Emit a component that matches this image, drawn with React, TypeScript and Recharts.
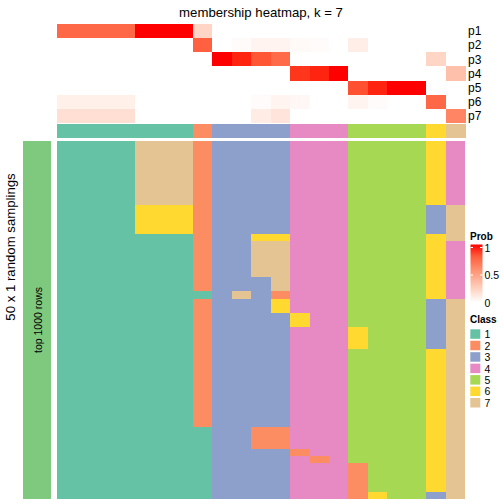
import React from "react";
import { BarChart, Bar, Cell, XAxis, YAxis } from "recharts";

const FONT = '"Liberation Sans", Arial, Helvetica, sans-serif';

// 21 samples (columns), ordered as in the picture
const sampleIds = [
  "s1", "s2", "s3", "s4", "s5", "s6", "s7", "s8", "s9", "s10", "s11",
  "s12", "s13", "s14", "s15", "s16", "s17", "s18", "s19", "s20", "s21",
];

// membership probabilities, one array per cluster
const probRows = ["p1", "p2", "p3", "p4", "p5", "p6", "p7"];
const p1 = [0.75, 0.75, 0.75, 0.75, 1, 1, 1, 0.22, 0, 0, 0, 0, 0, 0, 0, 0, 0, 0, 0, 0, 0];
const p2 = [0, 0, 0, 0, 0, 0, 0, 0.78, 0, 0.02, 0.06, 0.06, 0.03, 0.02, 0, 0.09, 0, 0, 0, 0, 0];
const p3 = [0, 0, 0, 0, 0, 0, 0, 0, 1, 0.96, 0.82, 0.74, 0, 0, 0, 0, 0, 0, 0, 0.22, 0];
const p4 = [0, 0, 0, 0, 0, 0, 0, 0, 0, 0, 0, 0, 0.92, 0.96, 1, 0, 0, 0, 0, 0, 0.33];
const p5 = [0, 0, 0, 0, 0, 0, 0, 0, 0, 0, 0, 0, 0, 0, 0, 0.84, 0.96, 1, 1, 0, 0];
const p6 = [0.08, 0.08, 0.08, 0.08, 0, 0, 0, 0, 0, 0, 0.02, 0.06, 0.04, 0, 0, 0.06, 0.02, 0, 0, 0.75, 0];
const p7 = [0.17, 0.17, 0.17, 0.17, 0, 0, 0, 0, 0, 0, 0.1, 0.14, 0, 0, 0, 0, 0, 0, 0, 0, 0.62];
const probs = [p1, p2, p3, p4, p5, p6, p7];

// consensus class of each sample
const sampleClass = [1, 1, 1, 1, 1, 1, 1, 2, 3, 3, 3, 3, 4, 4, 4, 5, 5, 5, 5, 6, 7];

// class of each sample in each of the 50 random samplings (one string per sampling)
const samplings = [
  "111177723333444555564", "111177723333444555564", "111177723333444555564",
  "111177723333444555564", "111177723333444555564", "111177723333444555564",
  "111177723333444555564", "111177723333444555564", "111177723333444555564",
  "111166623333444555537", "111166623333444555537", "111166623333444555537",
  "111166623333444555537", "111111123366444555567", "111111123377444555564",
  "111111123377444555564", "111111123377444555564", "111111123377444555564",
  "111111123377444555564", "111111123337444555564", "111111123337444555564",
  "111111113732444555564", "111111123336444555537", "111111123336444555537",
  "111111123333644555537", "111111123333644555537", "111111123333444655537",
  "111111123333444655537", "111111123333444655537", "111111123333444555567",
  "111111123333444555567", "111111123333444555567", "111111123333444555567",
  "111111123333444555567", "111111123333444555567", "111111123333444555567",
  "111111123333444555567", "111111123333444555567", "111111123333444555567",
  "111111123333444555567", "111111113322444555567", "111111113322444555567",
  "111111113322444555567", "111111113333244555567", "111111113333424555567",
  "111111113333444255567", "111111113333444255567", "111111113333444255567",
  "111111113333444255567", "111111113333444265537",
];

const classLabels = ["1", "2", "3", "4", "5", "6", "7"];
const classColors: Record<string, string> = {
  "1": "#66C2A5",
  "2": "#FC8D62",
  "3": "#8DA0CB",
  "4": "#E78AC3",
  "5": "#A6D854",
  "6": "#FFD92F",
  "7": "#E5C494",
};
const probTicks = [1, 0.5, 0];

// white -> red in LAB space
function toLinear(c: number) {
  c /= 255;
  return c <= 0.04045 ? c / 12.92 : Math.pow((c + 0.055) / 1.055, 2.4);
}
function fromLinear(c: number) {
  const v = c <= 0.0031308 ? 12.92 * c : 1.055 * Math.pow(c, 1 / 2.4) - 0.055;
  return Math.round(Math.min(1, Math.max(0, v)) * 255);
}
function rgbToLab(r: number, g: number, b: number) {
  const R = toLinear(r), G = toLinear(g), B = toLinear(b);
  const X = (0.4124 * R + 0.3576 * G + 0.1805 * B) / 0.95047;
  const Y = 0.2126 * R + 0.7152 * G + 0.0722 * B;
  const Z = (0.0193 * R + 0.1192 * G + 0.9505 * B) / 1.08883;
  const f = (t: number) => (t > 0.008856 ? Math.cbrt(t) : 7.787 * t + 16 / 116);
  return [116 * f(Y) - 16, 500 * (f(X) - f(Y)), 200 * (f(Y) - f(Z))];
}
function labToRgb(L: number, a: number, b: number) {
  const fy = (L + 16) / 116, fx = fy + a / 500, fz = fy - b / 200;
  const inv = (t: number) => (t ** 3 > 0.008856 ? t ** 3 : (t - 16 / 116) / 7.787);
  const X = inv(fx) * 0.95047, Y = inv(fy), Z = inv(fz) * 1.08883;
  const R = 3.2406 * X - 1.5372 * Y - 0.4986 * Z;
  const G = -0.9689 * X + 1.8758 * Y + 0.0415 * Z;
  const B = 0.0557 * X - 0.204 * Y + 1.057 * Z;
  return `rgb(${fromLinear(R)},${fromLinear(G)},${fromLinear(B)})`;
}
const WHITE = rgbToLab(255, 255, 255);
const RED = rgbToLab(255, 0, 0);
function probColor(t: number) {
  return labToRgb(
    WHITE[0] + (RED[0] - WHITE[0]) * t,
    WHITE[1] + (RED[1] - WHITE[1]) * t,
    WHITE[2] + (RED[2] - WHITE[2]) * t
  );
}

const probData = sampleIds.map((id) => {
  const o: any = { id };
  probRows.forEach((p) => (o[p] = 1));
  return o;
});
const classData = sampleIds.map((id) => ({ id, cls: 1 }));
const mainData = sampleIds.map((id) => {
  const o: any = { id };
  samplings.forEach((_, r) => (o[`r${r}`] = 1));
  return o;
});

const abs = (left: number, top: number): React.CSSProperties => ({ position: "absolute", left, top });

// recharts truncates bar widths to whole pixels, so each tile is widened by 1px
// (the next column paints over the overlap) and drawn without anti-aliasing
const Tile = (p: any) => {
  const y = Math.min(p.y, p.y + p.height);
  return <rect x={p.x} y={y} width={p.width + 1} height={Math.abs(p.height)} fill={p.fill} shapeRendering="crispEdges" />;
};

export default function App() {
  return (
    <div style={{ position: "absolute", left: 0, top: 0, width: 504, height: 504, background: "#fff", fontFamily: FONT }}>
      {/* probability annotation */}
      <div style={abs(57, 24)}>
        <BarChart width={447} height={99} data={probData} margin={{ top: 0, right: 0, left: 0, bottom: 0 }} barCategoryGap={0} barGap={0}>
          <XAxis dataKey="id" hide />
          <YAxis
            type="number"
            domain={[0, 7]}
            reversed
            orientation="right"
            width={39}
            ticks={[0.5, 1.5, 2.5, 3.5, 4.5, 5.5, 6.5]}
            tickFormatter={(v: number) => probRows[Math.floor(v)]}
            axisLine={false}
            tickLine={false}
            tickSize={0}
            tickMargin={3}
            tick={{ fill: "#000", fontSize: 12 }}
            interval={0}
          />
          {probRows.map((p, k) => (
            <Bar key={p} dataKey={p} stackId="p" isAnimationActive={false} shape={Tile}>
              {probs[k].map((v, c) => (
                <Cell key={c} fill={probColor(v)} />
              ))}
            </Bar>
          ))}
        </BarChart>
      </div>

      {/* class annotation */}
      <div style={abs(57, 124)}>
        <BarChart width={447} height={14} data={classData} margin={{ top: 0, right: 0, left: 0, bottom: 0 }} barCategoryGap={0} barGap={0}>
          <XAxis dataKey="id" hide />
          <YAxis
            type="number"
            domain={[0, 1]}
            orientation="right"
            width={39}
            ticks={[0.5]}
            tickFormatter={() => "Class"}
            axisLine={false}
            tickLine={false}
            tickSize={0}
            tickMargin={3}
            tick={{ fill: "#000", fontSize: 12 }}
          />
          <Bar dataKey="cls" isAnimationActive={false} shape={Tile}>
            {sampleClass.map((k, c) => (
              <Cell key={c} fill={classColors[String(k)]} />
            ))}
          </Bar>
        </BarChart>
      </div>

      {/* left annotation bar */}
      <div style={abs(23, 141)}>
        <BarChart width={28} height={358} data={[{ id: "top", v: 1 }]} margin={{ top: 0, right: 0, left: 0, bottom: 0 }} barCategoryGap={0}>
          <XAxis dataKey="id" hide />
          <YAxis hide domain={[0, 1]} />
          <Bar dataKey="v" fill="#7FC97F" isAnimationActive={false} />
        </BarChart>
      </div>

      {/* main heatmap: samplings x samples */}
      <div style={abs(57, 141)}>
        <BarChart width={408} height={358} data={mainData} margin={{ top: 0, right: 0, left: 0, bottom: 0 }} barCategoryGap={0} barGap={0}>
          <XAxis dataKey="id" hide />
          <YAxis hide type="number" domain={[0, samplings.length]} reversed />
          {samplings.map((row, r) => (
            <Bar key={r} dataKey={`r${r}`} stackId="m" isAnimationActive={false} shape={Tile}>
              {row.split("").map((ch, c) => (
                <Cell key={c} fill={classColors[ch]} />
              ))}
            </Bar>
          ))}
        </BarChart>
      </div>

      {/* titles and legends */}
      <svg width={504} height={504} style={{ position: "absolute", left: 0, top: 0, pointerEvents: "none" }}>
        <defs>
          <linearGradient id="probGrad" x1="0" y1="0" x2="0" y2="1">
            {[1, 0.8, 0.6, 0.4, 0.2, 0].map((t, i) => (
              <stop key={i} offset={`${(1 - t) * 100}%`} stopColor={probColor(t)} />
            ))}
          </linearGradient>
        </defs>
        <text x={261} y={12} fontSize={13.2} textAnchor="middle" dominantBaseline="central" fill="#000">
          membership heatmap, k = 7
        </text>
        <text transform="translate(10,247) rotate(-90)" fontSize={13.2} textAnchor="middle" dominantBaseline="central" fill="#000">
          50 x 1 random samplings
        </text>
        <text transform="translate(38,320) rotate(-90)" fontSize={10.5} textAnchor="middle" dominantBaseline="central" fill="#000">
          top 1000 rows
        </text>

        <text x={470} y={236} fontSize={10} fontWeight="bold" dominantBaseline="central" fill="#000">Prob</text>
        <rect x={470.5} y={244.5} width={12} height={58} fill="url(#probGrad)" />
        {probTicks.map((v) => {
          const y = 247.5 + (1 - v) * 55;
          return (
            <g key={v}>
              {v > 0 && (
                <>
                  <line x1={470.5} x2={473} y1={y} y2={y} stroke="#fff" strokeWidth={1} />
                  <line x1={480} x2={482.5} y1={y} y2={y} stroke="#fff" strokeWidth={1} />
                </>
              )}
              <text x={484.5} y={y} fontSize={10.5} dominantBaseline="central" fill="#000">{v}</text>
            </g>
          );
        })}

        <text x={470} y={319.5} fontSize={10} fontWeight="bold" dominantBaseline="central" fill="#000">Class</text>
        {classLabels.map((k, i) => {
          const y = 329.3 + i * 11.45;
          return (
            <g key={k}>
              <rect x={470.3} y={y} width={10} height={9.5} fill={classColors[k]} />
              <text x={484.5} y={y + 4.9} fontSize={10.5} dominantBaseline="central" fill="#000">{k}</text>
            </g>
          );
        })}
      </svg>
    </div>
  );
}
